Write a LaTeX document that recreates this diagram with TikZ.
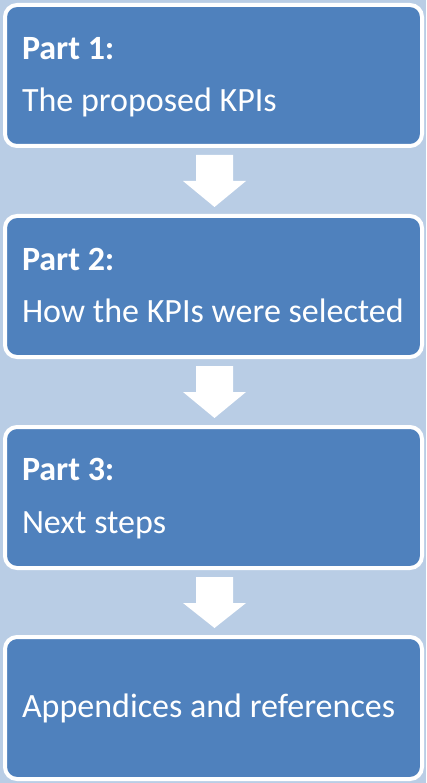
\documentclass[tikz,border=0pt]{standalone}
\usepackage{fontspec}
\setmainfont{Carlito}
\usetikzlibrary{calc}
\definecolor{bgblue}{HTML}{B9CDE5}
\definecolor{boxblue}{HTML}{4F81BD}
\tikzset{
  box/.style={draw=white, fill=boxblue, line width=4pt, rounded corners=12pt,
    minimum width=417pt, minimum height=141pt, inner sep=0pt, outer sep=0pt},
  lbl/.style={anchor=base west, text=white, inner sep=0pt, outer sep=0pt,
    font=\fontsize{34}{40}\selectfont},
  blockarrow/.style={fill=white, draw=none}
}
\begin{document}
\begin{tikzpicture}[x=1pt,y=-1pt]
\fill[bgblue] (0,0) rectangle (426,783);
\useasboundingbox (0,0) rectangle (426,783);
\node[box] (b1) at (213.5,75.5) {};
\node[box] (b2) at (213.5,286.5) {};
\node[box] (b3) at (213.5,497.5) {};
\node[box, minimum height=142pt] (b4) at (213.5,708) {};
\node[lbl] (t1a) at (22,60) {\textbf{Part 1:}};
\node[lbl] (t1b) at (22,112) {The proposed KPIs};
\node[lbl] (t2a) at (22,270) {\textbf{Part 2:}};
\node[lbl] (t2b) at (22,322) {How the KPIs were selected};
\node[lbl] (t3a) at (22,480) {\textbf{Part 3:}};
\node[lbl] (t3b) at (22,533) {Next steps};
\node[lbl] (t4) at (22,717) {Appendices and references};
\foreach \a/\b in {b1/b2,b2/b3,b3/b4}{
  \fill[blockarrow] ($(\a.south)+(-17.5,9)$) -- ($(\a.south)+(19.5,9)$)
    -- ($(\a.south)+(19.5,35)$) -- ($(\a.south)+(32.5,35)$)
    -- ($(\b.north)+(1,-9)$) -- ($(\a.south)+(-30.5,35)$)
    -- ($(\a.south)+(-17.5,35)$) -- cycle;
}
\end{tikzpicture}
\end{document}
